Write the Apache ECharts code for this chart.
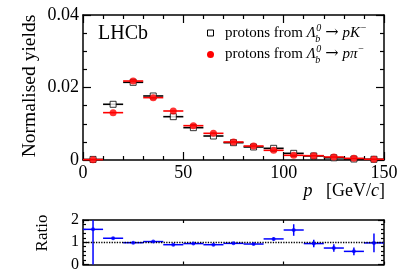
<!DOCTYPE html>
<html><head><meta charset="utf-8">
<script src="https://cdn.jsdelivr.net/npm/echarts@6/dist/echarts.min.js"></script>
<style>html,body{margin:0;padding:0;background:#fff}#c{width:407px;height:276px}</style>
</head><body><div id="c"></div>
<script>
const binCenters = [5,15,25,35,45,55,65,75,85,95,105,115,125,135,145];
const binHalf = 5;
const yieldPK  = [0.00016,0.01537,0.02143,0.01766,0.01195,0.00892,0.00662,0.00478,0.00359,0.00322,0.00184,0.00112,0.00061,0.00027,0.00020];
const yieldPPi = [0.00010,0.01306,0.02179,0.01720,0.01352,0.00947,0.00736,0.00497,0.00386,0.00267,0.00129,0.00119,0.00083,0.00046,0.00020];
const ratio    = [1.58,1.18,0.98,1.03,0.89,0.94,0.89,0.95,0.92,1.15,1.55,0.94,0.74,0.59,0.97];
const ratioErr = [1.6,0.05,0.03,0.03,0.03,0.03,0.03,0.03,0.04,0.07,0.26,0.17,0.17,0.17,0.42];
const xTicks = [0,50,100,150];
const yTicks = [0,0.02,0.04];
const rTicks = [0,1,2];
const legendLabels = [
  {prefix:'protons from ', decay:'pK'},
  {prefix:'protons from ', decay:'pπ'}
];

const FONT = 'Liberation Serif';
const chart = echarts.init(document.getElementById('c'), null, {renderer:'canvas'});

function zip(xs, ys, es){ return xs.map((x,i)=>[x, ys[i], es ? es[i] : 0]); }

function errBars(color, lw){
  return function(params, api){
    const x = api.value(0), y = api.value(1), e = api.value(2);
    const cs = params.coordSys;
    const a = api.coord([x-binHalf, y]), b = api.coord([x+binHalf, y]);
    const children = [{type:'line', shape:{x1:Math.max(a[0],cs.x), y1:a[1], x2:Math.min(b[0],cs.x+cs.width), y2:b[1]}, style:{stroke:color, lineWidth:lw}}];
    if (e > 0){
      const t = api.coord([x, y+e]), d = api.coord([x, y-e]);
      const top = Math.max(t[1], cs.y), bot = Math.min(d[1], cs.y+cs.height);
      children.push({type:'line', shape:{x1:t[0], y1:top, x2:d[0], y2:bot}, style:{stroke:color, lineWidth:lw}});
    }
    return {type:'group', children};
  };
}

const axisCommon = {
  axisLine:{show:true, onZero:false, lineStyle:{color:'#000', width:1.5}},
  splitLine:{show:false},
};
function xAx(grid, pos, showLabel, tickLen, minorLen){
  return Object.assign({}, axisCommon, {
    type:'value', gridIndex:grid, position:pos, min:xTicks[0], max:xTicks[xTicks.length-1], interval:50,
    axisTick:{show:true, inside:true, length:tickLen, lineStyle:{color:'#000', width:1.2}},
    minorTick:{show:minorLen>0, splitNumber:5, length:minorLen, lineStyle:{color:'#000', width:1.2}},
    axisLabel:{show:showLabel, color:'#000', fontFamily:FONT, fontSize:18, margin:4},
  });
}
function yAx(grid, pos, showLabel, min, max, interval, split, tickLen, minorLen, fs, fmt){
  return Object.assign({}, axisCommon, {
    type:'value', gridIndex:grid, position:pos, min, max, interval,
    axisTick:{show:true, inside:true, length:tickLen, lineStyle:{color:'#000', width:1.2}},
    minorTick:{show:true, splitNumber:split, length:minorLen, lineStyle:{color:'#000', width:1.2}},
    axisLabel:{show:showLabel, color:'#000', fontFamily:FONT, fontSize:fs, margin:4, formatter:fmt},
  });
}

// legend text laid out piece by piece using measured widths
const mctx = document.createElement('canvas').getContext('2d');
function tw(t, font){ mctx.font = font; return mctx.measureText(t).width; }
function legendRow(x0, yc, item){
  const F = '15px "Liberation Serif"', FI = 'italic 15px "Liberation Serif"', FS = 'italic 10px "Liberation Serif"', FA = '16px "DejaVu Serif"';
  const out = [];
  let x = x0;
  const put = (t, font, dx, dy) => { out.push({type:'text', x:x+(dx||0), y:yc+(dy||0), style:{text:t, font, fill:'#000', verticalAlign:'middle'}}); };
  put(item.prefix, F); x += tw(item.prefix, F);
  put('Λ', FI); x += tw('Λ', FI) + 0.5;
  put('0', FS, 0, -5.5); put('b', FS, -1, 5.5); x += tw('0', FS) + 4;
  put('→', FA, 0, -0.5); x += tw('→', FA) + 4;
  put(item.decay, FI); x += tw(item.decay, FI) + 0.5;
  put('−', '10px "Liberation Serif"', 0, -5.5);
  return out;
}

const option = {
  animation:false,
  grid:[
    {left:83, right:23, top:15, height:145},
    {left:83, right:23, top:220, height:44.5}
  ],
  xAxis:[
    xAx(0,'bottom',true,8,4),
    xAx(0,'top',false,8,4),
    xAx(1,'bottom',false,3,0),
    xAx(1,'top',false,3,0)
  ],
  yAxis:[
    yAx(0,'left',true,yTicks[0],yTicks[2],0.02,4,8,4,18,v=>v===0?'0':v.toFixed(2)),
    yAx(0,'right',false,yTicks[0],yTicks[2],0.02,4,8,4,18),
    yAx(1,'left',true,rTicks[0],rTicks[2],1,5,6,3,16),
    yAx(1,'right',false,rTicks[0],rTicks[2],1,5,6,3,16)
  ],
  series:[
    {type:'custom', xAxisIndex:0, yAxisIndex:0, renderItem:errBars('#000',1.6), data:zip(binCenters,yieldPK), z:2},
    {type:'scatter', xAxisIndex:0, yAxisIndex:0, symbol:'rect', symbolSize:6, data:zip(binCenters,yieldPK),
     itemStyle:{color:'#fff', borderColor:'#000', borderWidth:1}, z:3},
    {type:'custom', xAxisIndex:0, yAxisIndex:0, renderItem:errBars('#ff0000',1.6), data:zip(binCenters,yieldPPi), z:4},
    {type:'scatter', xAxisIndex:0, yAxisIndex:0, symbol:'circle', symbolSize:7, data:zip(binCenters,yieldPPi),
     itemStyle:{color:'#ff0000'}, z:5},
    {type:'custom', xAxisIndex:2, yAxisIndex:2, renderItem:errBars('#0000ff',1.5), data:zip(binCenters,ratio,ratioErr), z:4,
     markLine:{silent:true, symbol:'none', label:{show:false}, lineStyle:{color:'#000', type:'dotted', width:1.3}, data:[{yAxis:1}]}},
    {type:'scatter', xAxisIndex:2, yAxisIndex:2, symbol:'circle', symbolSize:4, data:zip(binCenters,ratio),
     itemStyle:{color:'#0000ff'}, z:5}
  ],
  graphic:[
    {type:'text', left:98, top:24, style:{text:'LHCb', font:'20px "Liberation Serif"', fill:'#000'}},
    {type:'text', x:30, y:86, rotation:Math.PI/2, style:{text:'Normalised yields', font:'19.5px "Liberation Serif"', fill:'#000', align:'center', verticalAlign:'middle'}},
    {type:'text', x:43, y:233, rotation:Math.PI/2, style:{text:'Ratio', font:'17px "Liberation Serif"', fill:'#000', align:'center', verticalAlign:'middle'}},
    {type:'text', x:385, y:191, style:{align:'right', verticalAlign:'middle', fill:'#000',
      rich:{it:{fontFamily:FONT, fontStyle:'italic', fontSize:18}, n:{fontFamily:FONT, fontSize:18}},
      text:'{it|p}{n|   [GeV/}{it|c}{n|]}'}},
    {type:'rect', shape:{x:207.5, y:30, width:6, height:6}, style:{fill:'#fff', stroke:'#000', lineWidth:1}},
    {type:'circle', shape:{cx:210.5, cy:54.5, r:3.5}, style:{fill:'#ff0000'}}
  ].concat(legendRow(225, 33.5, legendLabels[0]), legendRow(225, 54.5, legendLabels[1]))
};
chart.setOption(option);
</script></body></html>
